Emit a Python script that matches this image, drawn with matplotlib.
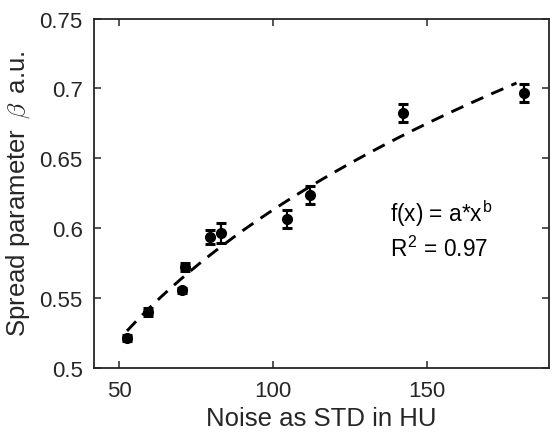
import numpy as np
from matplotlib import pyplot as plt

plt.rcParams['font.family'] = ['Liberation Sans', 'DejaVu Sans']
plt.rcParams['mathtext.fontset'] = 'cm'

noise_std = np.array([52.6, 59.4, 70.5, 71.4, 79.5, 83.0, 104.5, 112.0, 142.2, 181.5])
beta = np.array([0.5215, 0.540, 0.5555, 0.5722, 0.5937, 0.5966, 0.6066, 0.6238, 0.6824, 0.6967])
beta_err = np.array([0.002, 0.003, 0.002, 0.003, 0.005, 0.007, 0.0065, 0.0065, 0.0065, 0.0065])

# power law fit f(x) = a*x^b, done on log scale
b, log_a = np.polyfit(np.log(noise_std), np.log(beta), 1)
a = np.exp(log_a)
x_fit = np.linspace(noise_std.min(), noise_std.max() - 2.5, 200)
y_fit = a * x_fit ** b

fig = plt.figure(figsize=(5.55, 4.39), dpi=100)
ax = fig.add_axes([0.170, 0.1595, 0.819, 0.796])

ax.errorbar(noise_std, beta, yerr=beta_err, fmt='o', color='k', markersize=7,
            elinewidth=1.6, capsize=3.6, capthick=2.2, zorder=3)
ax.plot(x_fit, y_fit, color='k', lw=2.1, linestyle=(0, (4.5, 3)))

ax.text(138, 0.605, 'f(x) = a*x$^\\mathregular{b}$', fontsize=16.3, va='baseline')
ax.text(138, 0.580, 'R$^\\mathregular{2}$ = %.2f' % 0.97, fontsize=16.3, va='baseline')

ax.set_xlim(42, 189.5)
ax.set_ylim(0.5, 0.75)
ax.set_xticks([50, 100, 150])
ax.set_yticks([0.5, 0.55, 0.6, 0.65, 0.7, 0.75])
ax.set_yticklabels(['0.5', '0.55', '0.6', '0.65', '0.7', '0.75'])
ax.tick_params(direction='in', top=True, right=True, labelsize=16, length=5,
               width=1.1, colors='0.15', labelcolor='0.15', pad=8.5)
for s in ax.spines.values():
    s.set_linewidth(1.3)
    s.set_color('0.15')
ax.set_xlabel('Noise as STD in HU', fontsize=18.5, color='0.15', labelpad=4)
ax.set_ylabel('Spread parameter $\\,\\beta\\,$ a.u.', fontsize=18.5, color='0.15', labelpad=5)

fig.savefig('out.png', dpi=100)
